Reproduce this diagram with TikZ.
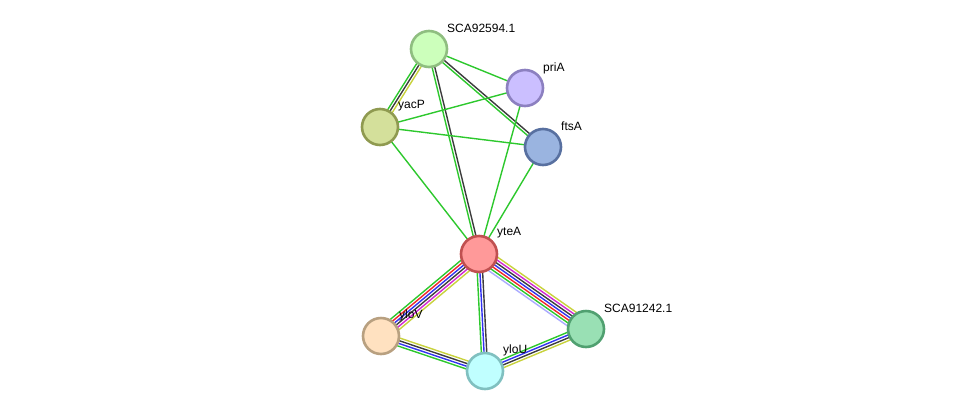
\documentclass[tikz,border=0pt]{standalone}
\usepackage{fontspec}
\setmainfont{Liberation Sans}
\usepackage{tikz}
\usetikzlibrary{calc,positioning}
\pgfdeclarelayer{background}
\pgfsetlayers{background,main}
\definecolor{nbhood}{RGB}{45,200,45}
\definecolor{txtmine}{RGB}{200,210,60}
\definecolor{coexpr}{RGB}{60,60,60}
\definecolor{exper}{RGB}{210,40,210}
\definecolor{fusion}{RGB}{240,40,40}
\definecolor{cooccur}{RGB}{50,50,240}
\definecolor{homol}{RGB}{170,170,255}
\tikzset{
    protein/.style={
        circle,
        minimum size=36pt,
        inner sep=0pt,
        line width=2.6pt
    },
    plabel/.style={
        anchor=west,
        inner sep=0pt,
        font={\fontsize{12pt}{14}\selectfont}
    },
    edge/.style={line width=1.4pt},
}
% one line per colour, side by side
\newcommand{\stredge}[4]{%
    \foreach \col [count=\k] in {#4} {
        \pgfmathsetmacro{\off}{(\k-1-(#3-1)/2)*2.7}
        \draw[edge, \col] ($(#1)!\off pt!90:(#2)$) -- ($(#2)!\off pt!-90:(#1)$);
    }%
}

\begin{document}
\begin{tikzpicture}[x=1pt,y=-1pt]
\useasboundingbox (0,0) rectangle (975,416);
\node[protein, fill={rgb,255:red,204;green,255;blue,187}, draw={rgb,255:red,143;green,190;blue,128}] (sca92594) at (429,49){};
\node[protein, fill={rgb,255:red,203;green,191;blue,255}, draw={rgb,255:red,140;green,128;blue,192}] (pria) at (525,88){};
\node[protein, fill={rgb,255:red,212;green,224;blue,155}, draw={rgb,255:red,143;green,154;blue,80}] (yacp) at (380,127){};
\node[protein, fill={rgb,255:red,154;green,180;blue,224}, draw={rgb,255:red,88;green,112;blue,160}] (ftsa) at (543,147){};
\node[protein, fill={rgb,255:red,255;green,153;blue,153}, draw={rgb,255:red,192;green,80;blue,80}] (ytea) at (479,254){};
\node[protein, fill={rgb,255:red,255;green,225;blue,192}, draw={rgb,255:red,184;green,160;blue,128}] (ylov) at (381,336){};
\node[protein, fill={rgb,255:red,153;green,224;blue,180}, draw={rgb,255:red,80;green,160;blue,112}] (sca91242) at (586,329){};
\node[protein, fill={rgb,255:red,192;green,255;blue,255}, draw={rgb,255:red,128;green,192;blue,192}] (ylou) at (485,371){};
\node[plabel] (lsca92594) at (447,28){SCA92594.1};
\node[plabel] (lpria) at (543,68){priA};
\node[plabel] (lyacp) at (398,106){yacP};
\node[plabel] (lftsa) at (561,126){ftsA};
\node[plabel] (lytea) at (497,233){yteA};
\node[plabel] (lylov) at (399,315){yloV};
\node[plabel] (lsca91242) at (604,308){SCA91242.1};
\node[plabel] (lylou) at (503,350){yloU};
\begin{pgfonlayer}{background}
\stredge{sca92594}{yacp}{3}{nbhood,coexpr,txtmine}
\stredge{sca92594}{pria}{1}{nbhood}
\stredge{sca92594}{ftsa}{2}{nbhood,coexpr}
\stredge{sca92594}{ytea}{2}{nbhood,coexpr}
\stredge{yacp}{pria}{1}{nbhood}
\stredge{yacp}{ftsa}{1}{nbhood}
\stredge{yacp}{ytea}{1}{nbhood}
\stredge{pria}{ytea}{1}{nbhood}
\stredge{ftsa}{ytea}{1}{nbhood}
\stredge{ytea}{ylov}{6}{nbhood,fusion,cooccur,coexpr,exper,txtmine}
\stredge{ytea}{sca91242}{7}{homol,nbhood,fusion,cooccur,coexpr,exper,txtmine}
\stredge{ytea}{ylou}{3}{nbhood,cooccur,coexpr}
\stredge{ylov}{ylou}{4}{nbhood,cooccur,coexpr,txtmine}
\stredge{ylou}{sca91242}{4}{txtmine,coexpr,cooccur,nbhood}
\end{pgfonlayer}
\end{tikzpicture}
\end{document}
